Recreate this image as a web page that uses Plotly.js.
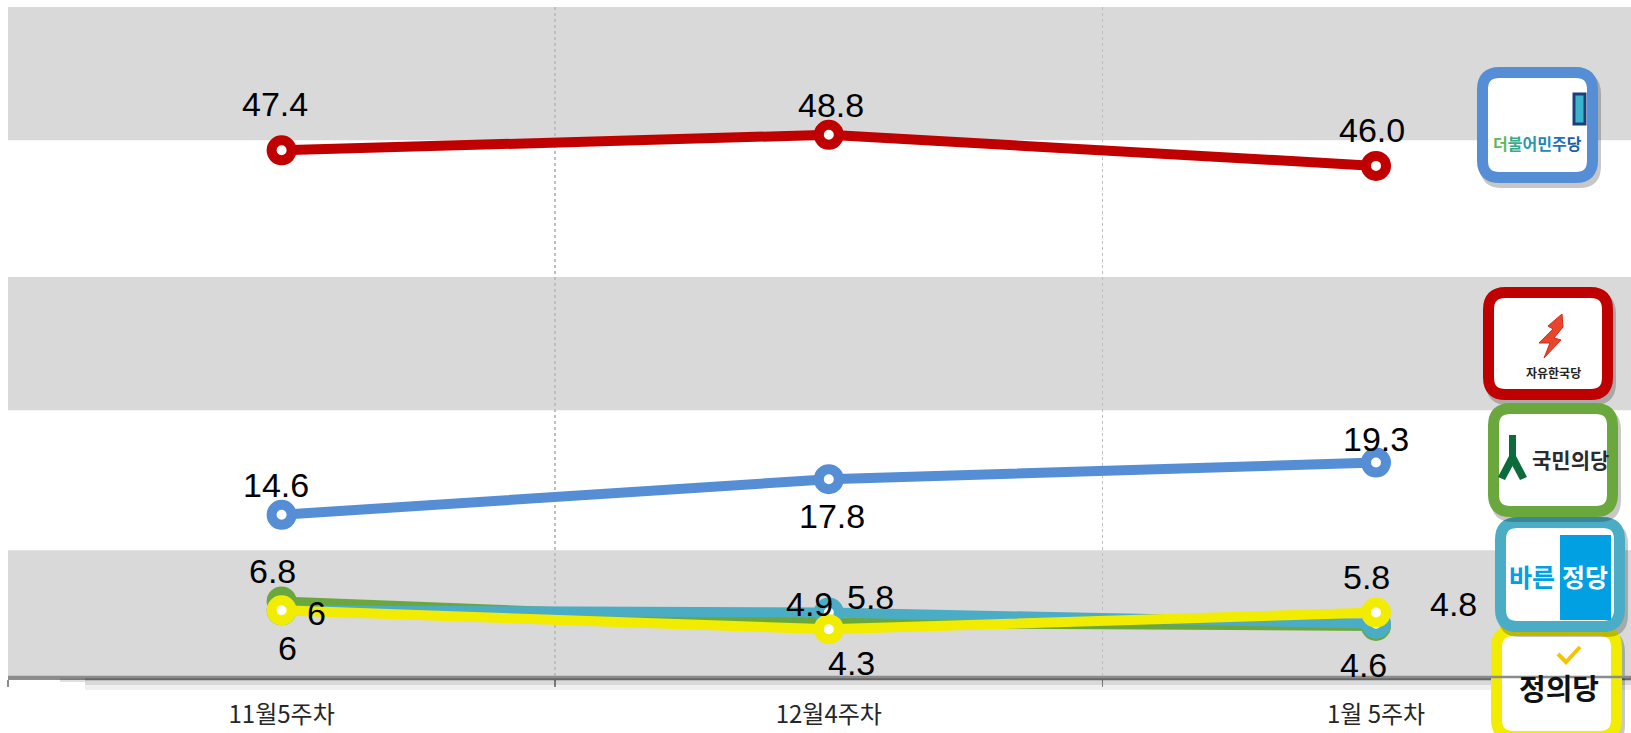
<!DOCTYPE html>
<html>
<head>
<meta charset="utf-8">
<script src="https://cdn.plot.ly/plotly-3.0.1.min.js"></script>
<style>html,body{margin:0;padding:0;background:#fff;}#chart{width:1631px;height:733px;}</style>
</head>
<body>
<div id="chart"></div>
<script>
// ---- data ----
const categories = ["11월5주차", "12월4주차", "1월 5주차"];
const demValues = [47.4, 48.8, 46.0];
const demLabels = ["47.4", "48.8", "46.0"];
const libValues = [14.6, 17.8, 19.3];
const libLabels = ["14.6", "17.8", "19.3"];
const pplValues = [6.8, 4.9, 4.6];
const pplLabels = ["6.8", "4.9", "4.6"];
const barValues = [6, 5.8, 4.8];
const barLabels = ["6", "5.8", "4.8"];
const jusValues = [6, 4.3, 5.8];
const jusLabels = ["6", "4.3", "5.8"];
const partyNames = ["더불어민주당", "자유한국당", "국민의당", "바른정당", "정의당"];

// ---- layout geometry ----
const W = 1631, H = 733, ML = 8, MR = 0, MT = 7, MB = 56;
const PW = W - ML - MR, PH = H - MT - MB;
const px2x = p => (p - ML) / PW;
const px2y = p => (H - MB - p) / PH;

const series = [
  {name: partyNames[0], y: demValues, labels: demLabels, color: "#C00000",
   off: [[-7, 46], [2, 30], [-4, 36]]},
  {name: partyNames[1], y: libValues, labels: libLabels, color: "#558ED5",
   off: [[-6, 30], [3, -37], [0, 24]]},
  {name: partyNames[2], y: pplValues, labels: pplLabels, color: "#6AA83E",
   off: [[-9, 30], [-19, 19], [-13, -39]]},
  {name: partyNames[3], y: barValues, labels: barLabels, color: "#4BACC6",
   off: [[35, -3], [42, 16], [77, 20]]},
  {name: partyNames[4], y: jusValues, labels: jusLabels, color: "#F2EC00",
   off: [[6, -38], [23, -34], [-10, 36]]}
];

const traces = series.map(s => ({
  type: "scatter", mode: "lines+markers", name: s.name,
  x: categories, y: s.y,
  line: {color: s.color, width: 10},
  marker: {size: 20, color: "#ffffff", line: {color: s.color, width: 10}},
  hoverinfo: "x+y+name", showlegend: false
}));

const annotations = [];
series.forEach(s => {
  s.y.forEach((v, i) => {
    annotations.push({
      x: categories[i], y: v, xref: "x", yref: "y", showarrow: false,
      xanchor: "center", yanchor: "middle",
      text: s.labels[i], xshift: s.off[i][0], yshift: s.off[i][1],
      font: {family: "Liberation Sans, Arial, sans-serif", size: 34, color: "#000"}
    });
  });
});

// background bands
const shapes = [];
[[0, 11.4], [24, 36], [48.3, 60.3]].forEach(b => {
  shapes.push({type: "rect", xref: "paper", yref: "y", x0: 0, x1: 1, y0: b[0], y1: b[1],
    fillcolor: "#D9D9D9", line: {width: 0}, layer: "below"});
});

// shadow under axis
[[677, 681, 0.26], [681, 685, 0.15], [685, 690, 0.06]].forEach(s => {
  shapes.push({type: "rect", xref: "paper", yref: "paper",
    x0: px2x(85), x1: px2x(W), y0: px2y(s[0]), y1: px2y(s[1]),
    fillcolor: "rgba(0,0,0," + s[2] + ")", line: {width: 0}, layer: "above"});
});
[[60, 85, 677, 682, 0.12]].forEach(s => {
  shapes.push({type: "rect", xref: "paper", yref: "paper",
    x0: px2x(s[0]), x1: px2x(s[1]), y0: px2y(s[2]), y1: px2y(s[3]),
    fillcolor: "rgba(0,0,0," + s[4] + ")", line: {width: 0}, layer: "above"});
});

function rr(x0, y0, x1, y1, r) {
  const P = (a, b) => px2x(a).toFixed(5) + "," + px2y(b).toFixed(5);
  return "M" + P(x0 + r, y0) + " L" + P(x1 - r, y0) + " Q" + P(x1, y0) + " " + P(x1, y0 + r) +
    " L" + P(x1, y1 - r) + " Q" + P(x1, y1) + " " + P(x1 - r, y1) +
    " L" + P(x0 + r, y1) + " Q" + P(x0, y1) + " " + P(x0, y1 - r) +
    " L" + P(x0, y0 + r) + " Q" + P(x0, y0) + " " + P(x0 + r, y0) + " Z";
}
function poly(pts) {
  return "M" + pts.map(p => px2x(p[0]).toFixed(5) + "," + px2y(p[1]).toFixed(5)).join(" L") + " Z";
}
function pline(pts) {
  return "M" + pts.map(p => px2x(p[0]).toFixed(5) + "," + px2y(p[1]).toFixed(5)).join(" L");
}

// logo boxes (outer pixel bounds), drawn in this order
const boxes = [
  {x0: 1477, y0: 67, x1: 1598, y1: 183, c: "#558ED5"},
  {x0: 1483, y0: 287, x1: 1613, y1: 400, c: "#C00000"},
  {x0: 1491, y0: 625, x1: 1622, y1: 742, c: "#F2EC00"},
  {x0: 1495, y0: 517, x1: 1625, y1: 632, c: "#4BACC6"},
  {x0: 1488, y0: 403, x1: 1618, y1: 517, c: "#6AA83E"}
];
boxes.forEach(b => {
  shapes.push({type: "path", xref: "paper", yref: "paper", path: rr(b.x0 + 3, b.y0 + 5, b.x1 + 3, b.y1 + 5, 22),
    fillcolor: "rgba(0,0,0,0.22)", line: {width: 0}, layer: "above"});
  shapes.push({type: "path", xref: "paper", yref: "paper", path: rr(b.x0 + 5.5, b.y0 + 5.5, b.x1 - 5.5, b.y1 - 5.5, 17),
    fillcolor: "#ffffff", line: {color: b.c, width: 11}, layer: "above"});
});

// logo decorations
shapes.push({type: "rect", xref: "paper", yref: "paper", x0: px2x(1574), x1: px2x(1585), y0: px2y(94), y1: px2y(124),
  fillcolor: "#3AB4CC", line: {color: "#1C3F7C", width: 3}, layer: "above"});
shapes.push({type: "path", xref: "paper", yref: "paper",
  path: poly([[1562, 314], [1548, 326], [1553, 329], [1539, 343], [1550, 343], [1544, 358], [1561, 340], [1554, 338], [1563, 327]]),
  fillcolor: "#E8452B", line: {color: "#D62A20", width: 1}, layer: "above"});
shapes.push({type: "path", xref: "paper", yref: "paper",
  path: poly([[1509, 435], [1516, 435], [1516, 456], [1527, 477], [1520, 480], [1512.5, 466], [1505, 480], [1498, 477], [1509, 456]]),
  fillcolor: "#0B6B3A", line: {width: 0}, layer: "above"});
shapes.push({type: "rect", xref: "paper", yref: "paper", x0: px2x(1560), x1: px2x(1611), y0: px2y(535), y1: px2y(620),
  fillcolor: "#00A0E3", line: {width: 0}, layer: "above"});
shapes.push({type: "path", xref: "paper", yref: "paper",
  path: pline([[1558, 654], [1566, 662], [1580, 647]]),
  line: {color: "#F5C400", width: 4}, layer: "above"});

// axis line on top
shapes.push({type: "line", xref: "paper", yref: "paper", x0: 0, x1: px2x(W), y0: 0, y1: 0,
  line: {color: "#8C8C8C", width: 2.5}, layer: "above"});

const kr = "Noto Sans CJK KR, sans-serif";
function pa(px, py, text, size, color) {
  return {xref: "paper", yref: "paper", x: px2x(px), y: px2y(py), showarrow: false,
    xanchor: "center", yanchor: "middle",
    text: text, font: {family: kr, size: size, color: color}};
}
const demText = partyNames[0].split("").map((ch, i) =>
  '<span style="color:' + ["#5BB85A", "#3AA98C", "#2A9BA8", "#2188B8", "#1F74B8", "#1D5FA8"][i] + '">' + ch + "</span>").join("");
annotations.push(pa(1537, 143, "<b>" + demText + "</b>", 16, "#1F74B8"));
annotations.push(pa(1553, 372, "<b>" + partyNames[1] + "</b>", 12, "#222"));
annotations.push(pa(1570, 459, "<b>" + partyNames[2] + "</b>", 21, "#2B2B2B"));
annotations.push(pa(1532, 576, "<b>" + partyNames[3].slice(0, 2) + "</b>", 25, "#00A0E3"));
annotations.push(pa(1585, 576, "<b>" + partyNames[3].slice(2) + "</b>", 25, "#ffffff"));
annotations.push(pa(1559, 687, "<b>" + partyNames[4] + "</b>", 29, "#111"));

const layout = {
  width: W, height: H,
  margin: {l: ML, r: MR, t: MT, b: MB, pad: 0},
  paper_bgcolor: "#ffffff", plot_bgcolor: "#ffffff",
  showlegend: false,
  xaxis: {
    type: "category", range: [-0.5, 2.466], tickson: "boundaries",
    showgrid: true, gridcolor: "#BFBFBF", griddash: "dot", gridwidth: 1.5,
    ticks: "outside", ticklen: 7, tickcolor: "#8C8C8C", tickwidth: 1.5,
    showline: true, linecolor: "#8C8C8C", linewidth: 2.5,
    ticklabelstandoff: 15,
    tickfont: {family: kr, size: 24, color: "#262626"},
    zeroline: false, fixedrange: true
  },
  yaxis: {range: [0, 60.3], visible: false, showgrid: false, zeroline: false, fixedrange: true},
  shapes: shapes,
  annotations: annotations
};

Plotly.newPlot("chart", traces, layout, {displayModeBar: false, staticPlot: true});
</script>
</body>
</html>
